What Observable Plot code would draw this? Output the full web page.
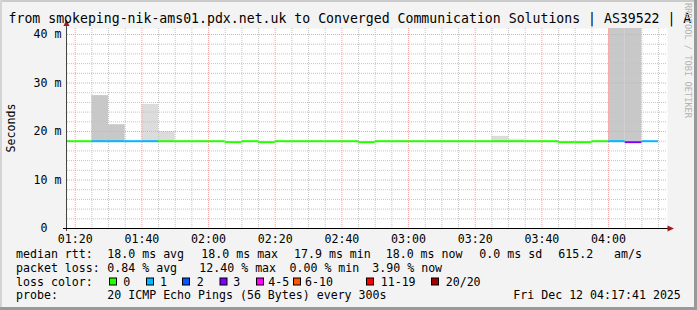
<!DOCTYPE html>
<html><head><meta charset="utf-8">
<script src="https://cdn.jsdelivr.net/npm/d3@7"></script>
<script src="https://cdn.jsdelivr.net/npm/@observablehq/plot@0.6"></script>
<style>
html,body{margin:0;padding:0;background:#f3f3f3;}
#chart{width:697px;height:310px;overflow:hidden;}
svg{display:block;}
</style></head><body><div id="chart"></div>
<script>
// ---------- data ----------
const day = "2025-12-12";
const viewStart = "01:17:41";
const viewEnd = "04:17:41";
const stepStarts = ["01:15","01:20","01:25","01:30","01:35","01:40","01:45","01:50","01:55","02:00",
  "02:05","02:10","02:15","02:20","02:25","02:30","02:35","02:40","02:45","02:50",
  "02:55","03:00","03:05","03:10","03:15","03:20","03:25","03:30","03:35","03:40",
  "03:45","03:50","03:55","04:00","04:05","04:10"];
const medianMs = [18.0,18.0,18.0,18.0,18.0,18.0,18.0,18.0,18.0,18.0,
  17.8,18.0,17.8,18.0,18.0,18.0,18.0,18.0,17.8,18.0,
  18.0,18.0,18.0,18.0,18.0,18.0,18.0,18.0,18.0,18.0,
  17.8,17.8,18.0,18.0,17.8,18.0];
const lossCount = ["0","0","1","1","1","1","0","0","0","0",
  "0","0","0","0","0","0","0","0","0","0",
  "0","0","0","0","0","0","0","0","0","0",
  "0","0","0","1","3","1"];
const lossLabels = ["0","1","2","3","4-5","6-10","11-19","20/20"];
const lossColors = ["#26ff00","#00b8ff","#0059ff","#7e00ff","#ff00ff","#ff5500","#ff0000","#a10000"];
const smokeStarts = ["01:25","01:30","01:40","01:45","03:25","03:30","04:00","04:05"];
const smokeLowMs  = [17.9,17.9,17.9,17.9,17.9,17.9,17.9,17.9];
const smokeHighMs = [27.4,21.4,25.6,20.0,19.0,18.4,60,60];
const smokeLevel  = [2,2,1,1,1,0,2,2];
const smokeShades = ["#e6e6e6","#dcdcdc","#c8c8c8"];
const yTicks = [0,10,20,30,40];
const yTickLabels = ["0","10 m","20 m","30 m","40 m"];
const yMinor = [2,4,6,8,12,14,16,18,22,24,26,28,32,34,36,38];
const xTickLabels = ["01:20","01:40","02:00","02:20","02:40","03:00","03:20","03:40","04:00"];
const titleText = "from smokeping-nik-ams01.pdx.net.uk to Converged Communication Solutions | AS39522 | A";
const legendRows = [
  ["median rtt:", "18.0 ms avg", "18.0 ms max", "17.9 ms min", "18.0 ms now", "0.0 ms sd", "615.2", "am/s"],
  ["packet loss:", "0.84 % avg", "12.40 % max", "0.00 % min", "3.90 % now"],
  ["probe:", "20 ICMP Echo Pings (56 Bytes) every 300s", "Fri Dec 12 04:17:41 2025"]
];

// ---------- helpers ----------
const T = s => new Date(`${day}T${s.length === 5 ? s + ":00" : s}Z`);
const STEP = 5 * 60 * 1000;
const t0 = T(viewStart), t1 = T(viewEnd);
const steps = stepStarts.map((s, i) => ({x1: T(s), x2: new Date(+T(s) + STEP), y: medianMs[i], loss: lossCount[i]}));
const smoke = smokeStarts.map((s, i) => ({x1: T(s), x2: new Date(+T(s) + STEP), y1: smokeLowMs[i], y2: smokeHighMs[i], level: smokeLevel[i]}));
const xMajor = xTickLabels.map(T);
const xMinor = d3.utcMinute.every(5).range(t0, t1).filter(d => d.getUTCMinutes() % 20 !== 0);
const FONT = "'DejaVu Sans Mono', monospace";

const chart = Plot.plot({
  width: 697, height: 310,
  marginLeft: 67, marginRight: 30, marginTop: 28, marginBottom: 82,
  style: {background: "#f3f3f3", fontFamily: FONT, fontSize: "11.6px", color: "#000", overflow: "visible"},
  x: {type: "utc", domain: [t0, t1]},
  y: {domain: [0, 41.24]},
  color: {domain: lossLabels, range: lossColors},
  marks: [
    Plot.frame({fill: "#ffffff", stroke: null}),
    ...smokeShades.map((shade, lv) => Plot.rect(smoke.filter(d => d.level === lv),
      {x1: "x1", x2: "x2", y1: "y1", y2: "y2", fill: shade, clip: true})),
    Plot.gridY(yMinor, {stroke: "#c4c4c4", strokeOpacity: 1, strokeDasharray: "1,1"}),
    Plot.gridX(xMinor, {stroke: "#c4c4c4", strokeOpacity: 1, strokeDasharray: "1,1"}),
    Plot.gridY(yTicks.slice(1), {stroke: "#f2a2a2", strokeOpacity: 1, strokeDasharray: "1,1"}),
    Plot.gridX(xMajor, {stroke: "#f2a2a2", strokeOpacity: 1, strokeDasharray: "1,1"}),
    Plot.ruleY(steps, {x1: "x1", x2: "x2", y: "y", stroke: "loss", strokeWidth: 2, clip: true}),
    Plot.axisY(yTicks, {tickSize: 0, tickPadding: 6, label: null, fill: "#000",
      tickFormat: d => { const s = yTickLabels[yTicks.indexOf(d)]; return s.length === 1 ? s + "\u00a0\u00a0" : s; }}),
    Plot.axisX(xMajor, {tickSize: 0, tickPadding: 6, label: null, fill: "#000",
      tickFormat: d => xTickLabels[xMajor.findIndex(v => +v === +d)]})
  ]
});
document.getElementById("chart").appendChild(chart);

// ---------- decorations ----------
const svg = d3.select(chart);
// frame shading
svg.append("rect").attr("x", 0).attr("y", 0).attr("width", 697).attr("height", 2).attr("fill", "#cbcbcb");
svg.append("rect").attr("x", 0).attr("y", 0).attr("width", 2).attr("height", 310).attr("fill", "#d4d4d4");
svg.append("rect").attr("x", 694).attr("y", 0).attr("width", 3).attr("height", 310).attr("fill", "#999");
svg.append("rect").attr("x", 0).attr("y", 307).attr("width", 697).attr("height", 3).attr("fill", "#999");

// axis lines with arrows
svg.append("line").attr("x1", 66.5).attr("x2", 66.5).attr("y1", 231).attr("y2", 23).attr("stroke", "#444");
svg.append("line").attr("x1", 63).attr("x2", 669).attr("y1", 228.5).attr("y2", 228.5).attr("stroke", "#000");
svg.append("path").attr("d", "M66.5,19.5 L63.5,26 L69.5,26 Z").attr("fill", "#9b1c1c");
svg.append("path").attr("d", "M674,228.5 L667.5,225.5 L667.5,231.5 Z").attr("fill", "#9b1c1c");

// title
svg.append("text").attr("x", 8.5).attr("y", 22.5).attr("text-anchor", "start").attr("font-family", FONT)
  .attr("font-size", "13.2px").attr("fill", "#000").text(titleText);

// watermark
svg.append("text").attr("transform", "translate(685,3) rotate(90)").attr("text-anchor", "start")
  .attr("font-family", FONT).attr("font-size", "8.7px").attr("fill", "#b4b4b4").text("RRDTOOL / TOBI OETIKER");

// y label
svg.append("text").attr("transform", "translate(15,128) rotate(-90)").attr("text-anchor", "middle")
  .attr("font-family", FONT).attr("font-size", "11.6px").attr("fill", "#000").text("Seconds");

// legend
const leg = svg.append("g").attr("font-family", FONT).attr("font-size", "11.6px").attr("fill", "#000")
  .attr("text-anchor", "start");
const row1X = [16, 107.3, 201.3, 294, 385.7, 479.3, 558.3, 614];
const row2X = [16, 107.3, 199.3, 289.5, 372.3];
const row4X = [16, 107.3, 513.3];
legendRows[0].forEach((s, i) => leg.append("text").attr("x", row1X[i]).attr("y", 258).text(s));
legendRows[1].forEach((s, i) => leg.append("text").attr("x", row2X[i]).attr("y", 271.8).text(s));
legendRows[2].forEach((s, i) => leg.append("text").attr("x", row4X[i]).attr("y", 299.4).text(s));
leg.append("text").attr("x", 16).attr("y", 285.6).text("loss color:");
const boxX = [109, 146, 182, 219.5, 256, 293, 366, 431];
const labX = [123.3, 160, 196.7, 233.3, 268.3, 305, 380.7, 445.7];
lossLabels.forEach((l, i) => {
  leg.append("rect").attr("x", boxX[i] + 0.5).attr("y", 278).attr("width", 7).attr("height", 7)
    .attr("fill", lossColors[i]).attr("stroke", "#000").attr("stroke-width", 1);
  leg.append("text").attr("x", labX[i]).attr("y", 285.6).text(l);
});
</script></body></html>
